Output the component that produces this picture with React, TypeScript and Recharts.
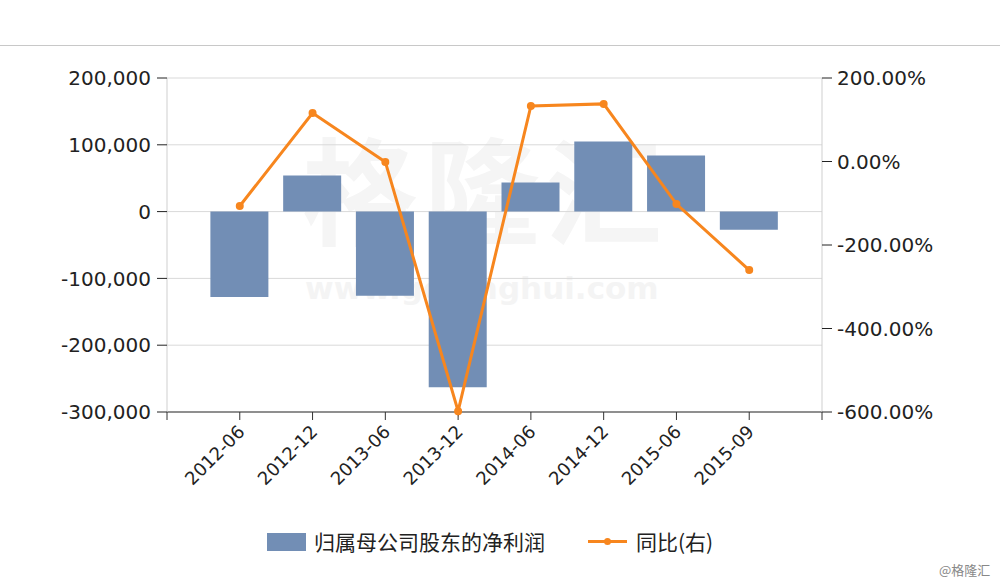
import { Bar, CartesianGrid, ComposedChart, Line, XAxis, YAxis } from "recharts";

const categories = ["2012-06", "2012-12", "2013-06", "2013-12", "2014-06", "2014-12", "2015-06", "2015-09"];
const netProfit = [-128000, 54000, -126000, -263000, 43500, 105000, 84000, -27000];
const yoy = [-106.6, 116, -1, -598, 133, 138, -102, -260];
const leftTicks = [-300000, -200000, -100000, 0, 100000, 200000];
const rightTicks = [-600, -400, -200, 0, 200];
const xTicks = [-1, 0, 1, 2, 3, 4, 5, 6, 7, 8];

const BAR = "#728eb5";
const ORANGE = "#f7861e";
const FONT = "DejaVu Sans, Verdana, sans-serif";

const data = categories.map((c, i) => ({ x: i, name: c, profit: netProfit[i], yoy: yoy[i] }));

const fmtNum = (v: number) => v.toLocaleString("en-US");
const fmtPct = (v: number) => `${v.toFixed(2)}%`;

function XTick({ x, y, payload }: any) {
  const label = categories[payload.value] ?? "";
  return (
    <g transform={`translate(${x + 6},${y + 11})`}>
      <text textAnchor="end" transform="rotate(-45)" fill="#222" fontSize={18} fontFamily={FONT}>
        {label}
      </text>
    </g>
  );
}

export default function App() {
  return (
    <div style={{ position: "relative", width: 1000, height: 583, background: "#fff", overflow: "hidden" }}>
      <style>{`body{margin:0}`}</style>
      <div style={{ position: "absolute", left: 0, top: 45, width: 1000, height: 1, background: "#c8c8c8" }} />
      {/* watermark */}
      <div
        style={{
          position: "absolute",
          left: 302,
          top: 127,
          fontFamily: "Noto Sans CJK SC",
          fontSize: 116,
          fontWeight: 700,
          color: "#f5f5f5",
          letterSpacing: 6,
          lineHeight: "116px",
        }}
      >
        格隆汇
      </div>
      <div
        style={{
          position: "absolute",
          left: 305,
          top: 272,
          fontFamily: "DejaVu Sans",
          fontSize: 31,
          fontWeight: 700,
          lineHeight: "32px",
          color: "#f4f4f4",
        }}
      >
        www.gelonghui.com
      </div>
      <div style={{ position: "absolute", left: 0, top: 0 }}>
        <ComposedChart width={1000} height={583} data={data} margin={{ top: 78, right: 0, bottom: 81, left: 0 }}>
          <CartesianGrid yAxisId="left" vertical={false} stroke="#d9d9d9" />
          <XAxis
            dataKey="x"
            type="number"
            domain={[-1, 8]}
            ticks={xTicks}
            interval={0}
            height={90}
            tick={<XTick />}
            tickSize={8}
            axisLine={{ stroke: "#333" }}
            tickLine={{ stroke: "#333" }}
          />
          <YAxis
            yAxisId="left"
            width={167}
            domain={[-300000, 200000]}
            ticks={leftTicks}
            tickFormatter={fmtNum}
            tickSize={10}
            tickMargin={6}
            axisLine={{ stroke: "#cfcfcf" }}
            tickLine={{ stroke: "#222" }}
            tick={{ fill: "#222", fontSize: 20, fontFamily: FONT }}
          />
          <YAxis
            yAxisId="right"
            orientation="right"
            width={178}
            domain={[-600, 200]}
            ticks={rightTicks}
            tickFormatter={fmtPct}
            tickSize={10}
            tickMargin={5}
            axisLine={{ stroke: "#cfcfcf" }}
            tickLine={{ stroke: "#222" }}
            tick={{ fill: "#222", fontSize: 20, fontFamily: FONT }}
          />
          <Bar yAxisId="left" dataKey="profit" fill={BAR} barSize={58} isAnimationActive={false} />
          <Line
            yAxisId="right"
            dataKey="yoy"
            stroke={ORANGE}
            strokeWidth={3}
            dot={{ r: 4, fill: ORANGE, stroke: ORANGE, strokeWidth: 0 }}
            activeDot={false}
            isAnimationActive={false}
          />
        </ComposedChart>
      </div>
      {/* legend */}
      <div style={{ position: "absolute", left: 267, top: 533, width: 39, height: 18, background: BAR }} />
      <div
        style={{
          position: "absolute",
          left: 314,
          top: 527,
          fontFamily: "Noto Sans CJK SC",
          fontSize: 21,
          lineHeight: "28px",
          color: "#222",
        }}
      >
        归属母公司股东的净利润
      </div>
      <div style={{ position: "absolute", left: 588, top: 540, width: 39, height: 3, background: ORANGE }} />
      <div style={{ position: "absolute", left: 604, top: 538, width: 7, height: 7, borderRadius: 4, background: ORANGE }} />
      <div
        style={{
          position: "absolute",
          left: 636,
          top: 527,
          fontFamily: "Noto Sans CJK SC",
          fontSize: 21,
          lineHeight: "28px",
          color: "#222",
        }}
      >
        同比(右)
      </div>
      <div
        style={{
          position: "absolute",
          left: 939,
          top: 560,
          fontFamily: "Noto Sans CJK SC",
          fontSize: 13,
          color: "#888",
        }}
      >
        @格隆汇
      </div>
    </div>
  );
}
